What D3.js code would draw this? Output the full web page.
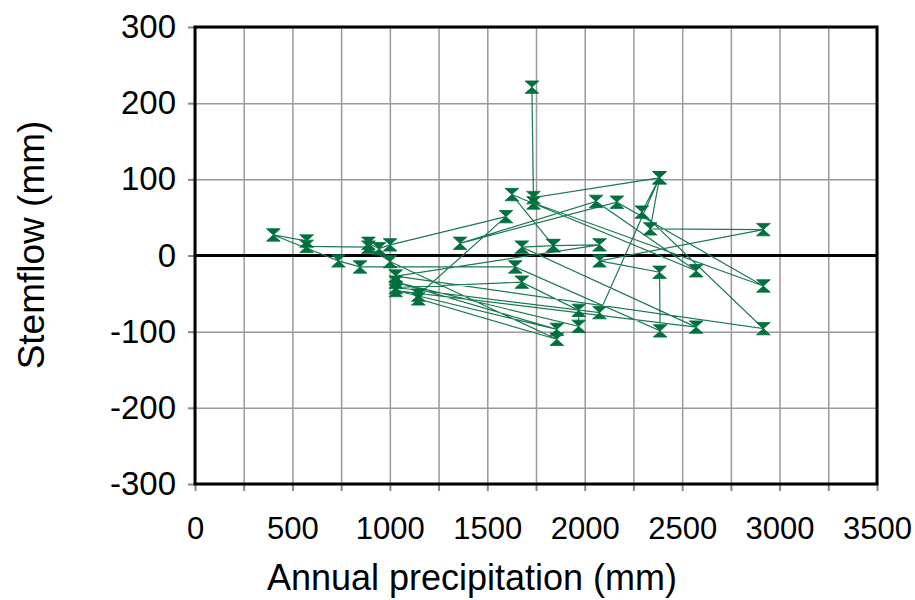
<!DOCTYPE html>
<html>
<head>
<meta charset="utf-8">
<script src="https://cdn.jsdelivr.net/npm/d3@7"></script>
<style>
  body { margin: 0; background: #fff; }
  svg { display: block; font-family: "Liberation Sans", Arial, sans-serif; }
</style>
</head>
<body>
<div id="chart"></div>
<script>
// annual precipitation (mm), in the order the points are joined
var precip = [890, 945, 1001, 1596, 1146, 1146, 1857, 1001, 890, 573, 573, 402,
              736, 847, 1643, 2387, 2384, 2076, 2917, 2336, 2384, 2076, 1030, 1677,
              1969, 1969, 1030, 1857, 1030, 2572, 1677, 1839, 2076, 1030, 2917, 2293,
              2384, 1737, 1729, 1737, 2917, 2165, 1360, 2058, 2572, 1626, 1839];
// stemflow (mm)
var stemflow = [16, 9, 14, 51, -52, -57, -110, -8, 11, 12, 19, 27,
                -7, -15, -15, -99, -22, -7, 34, 35, 102, -75, -42, -35,
                -72, -93, -35, -97, -46, -94, 11, 13, 14, -27, -96, 57,
                102, 76, 221, 69, -40, 70, 16, 71, -20, 80, 13];

var xTicks = d3.range(0, 3501, 250);
var yTicks = d3.range(-300, 301, 100);

var W = 915, H = 600;
var pLeft = 195, pRight = 877, pTop = 27, pBottom = 484;

var svg = d3.select("#chart").append("svg")
    .attr("width", W).attr("height", H);

var x = d3.scaleLinear().domain([0, 3500]).range([pLeft, pRight]);
var y = d3.scaleLinear().domain([-300, 300]).range([pBottom, pTop]);

// gridlines
svg.append("g")
    .attr("transform", "translate(0," + pBottom + ")")
    .call(d3.axisBottom(x).tickValues(xTicks).tickSize(-(pBottom - pTop)).tickFormat(""))
    .call(function(g){ g.select(".domain").remove(); })
    .selectAll("line").attr("stroke", "#999").attr("stroke-width", 1.5);
svg.append("g")
    .attr("transform", "translate(" + pLeft + ",0)")
    .call(d3.axisLeft(y).tickValues(yTicks).tickSize(-(pRight - pLeft)).tickFormat(""))
    .call(function(g){ g.select(".domain").remove(); })
    .selectAll("line").attr("stroke", "#999").attr("stroke-width", 1.5);

// axes with outside ticks
var xAxis = svg.append("g")
    .attr("transform", "translate(0," + pBottom + ")")
    .call(d3.axisBottom(x).tickValues(xTicks).tickSize(7).tickPadding(26)
        .tickFormat(function(d){ return d % 500 === 0 ? String(d) : ""; }));
xAxis.select(".domain").remove();
xAxis.selectAll("line").attr("stroke", "#888").attr("stroke-width", 2);
xAxis.selectAll("text").attr("font-size", 31).attr("fill", "#000");

var yAxis = svg.append("g")
    .attr("transform", "translate(" + pLeft + ",0)")
    .call(d3.axisLeft(y).tickValues(yTicks).tickSize(7).tickPadding(12)
        .tickFormat(function(d){ return String(d); }));
yAxis.select(".domain").remove();
yAxis.selectAll("line").attr("stroke", "#888").attr("stroke-width", 2);
yAxis.selectAll("text").attr("font-size", 33).attr("fill", "#000");

// zero line
svg.append("line")
    .attr("x1", pLeft).attr("x2", pRight)
    .attr("y1", y(0)).attr("y2", y(0))
    .attr("stroke", "#000").attr("stroke-width", 3);

// frame
svg.append("rect")
    .attr("x", pLeft).attr("y", pTop)
    .attr("width", pRight - pLeft).attr("height", pBottom - pTop)
    .attr("fill", "none").attr("stroke", "#000").attr("stroke-width", 3);

var pts = precip.map(function(p, i){ return [p, stemflow[i]]; });

var line = d3.line()
    .x(function(d){ return x(d[0]); })
    .y(function(d){ return y(d[1]); });

svg.append("path")
    .datum(pts)
    .attr("fill", "none")
    .attr("stroke", "#1b7a52")
    .attr("stroke-width", 1.2)
    .attr("d", line);

// hourglass marker
var hourglass = {
    draw: function(ctx, size){
        var w = Math.sqrt(size) / 2, h = w * 0.9;
        ctx.moveTo(-w, -h);
        ctx.lineTo(w, -h);
        ctx.lineTo(0, 0);
        ctx.lineTo(w, h);
        ctx.lineTo(-w, h);
        ctx.lineTo(0, 0);
        ctx.closePath();
    }
};

svg.append("g").selectAll("path")
    .data(pts)
    .enter().append("path")
    .attr("transform", function(d){ return "translate(" + x(d[0]) + "," + y(d[1]) + ")"; })
    .attr("d", d3.symbol().type(hourglass).size(190))
    .attr("fill", "#00703f")
    .attr("stroke", "#00703f")
    .attr("stroke-width", 0.8);

// titles
svg.append("text")
    .attr("x", 472).attr("y", 590)
    .attr("text-anchor", "middle")
    .attr("font-size", 36)
    .text("Annual precipitation (mm)");

svg.append("text")
    .attr("transform", "translate(44,245) rotate(-90)")
    .attr("text-anchor", "middle")
    .attr("font-size", 37)
    .text("Stemflow (mm)");
</script>
</body>
</html>
